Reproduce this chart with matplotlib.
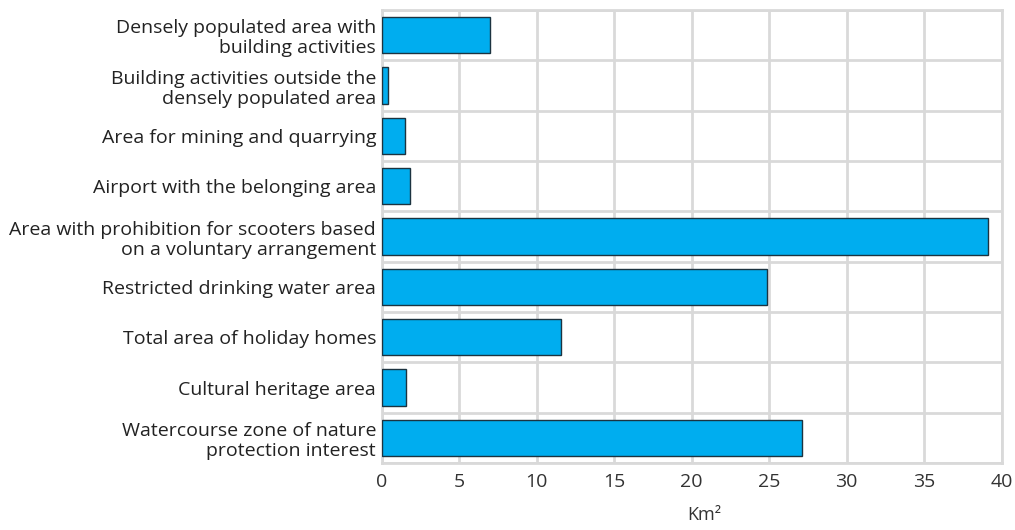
import matplotlib.pyplot as plt
import numpy as np

# Data
categories = [
    "Densely populated area with\nbuilding activities",
    "Building activities outside the\ndensely populated area",
    "Area for mining and quarrying",
    "Airport with the belonging area",
    "Area with prohibition for scooters based\non a voluntary arrangement",
    "Restricted drinking water area",
    "Total area of holiday homes",
    "Cultural heritage area",
    "Watercourse zone of nature\nprotection interest",
]
values = [7.0, 0.4, 1.5, 1.85, 39.15, 24.85, 11.6, 1.6, 27.15]
x_ticks = [0, 5, 10, 15, 20, 25, 30, 35, 40]

plt.rcParams['font.family'] = ['Open Sans', 'DejaVu Sans']

fig = plt.figure(figsize=(10.15, 5.3), dpi=100)
ax = fig.add_axes([0.376, 0.1264, 0.6107, 0.8547])

y = np.arange(len(categories))
ax.barh(y, values, height=0.72, color='#00adef', edgecolor='#1c3340', linewidth=1, zorder=3)

ax.set_xlim(0, 40)
ax.set_ylim(len(categories) - 0.5, -0.5)
ax.set_xticks(x_ticks)
ax.set_yticks(y)
ax.set_yticklabels(categories, fontsize=14, color='#222222', linespacing=1.15)
ax.set_yticks(np.arange(len(categories) + 1) - 0.5, minor=True)
ax.tick_params(axis='both', which='both', length=0)
ax.tick_params(axis='x', labelsize=14, labelcolor='#333333', pad=7)
ax.tick_params(axis='y', pad=4)

ax.grid(axis='x', which='major', color='#d9d9d9', linewidth=2, zorder=0)
ax.grid(axis='y', which='minor', color='#d9d9d9', linewidth=2, zorder=0)
for s in ax.spines.values():
    s.set_color('#d9d9d9')
    s.set_linewidth(2)

ax.set_xlabel('Km²', fontsize=13, color='#333333')
ax.xaxis.set_label_coords(0.52, -0.095)

fig.savefig('out.png', dpi=100)
